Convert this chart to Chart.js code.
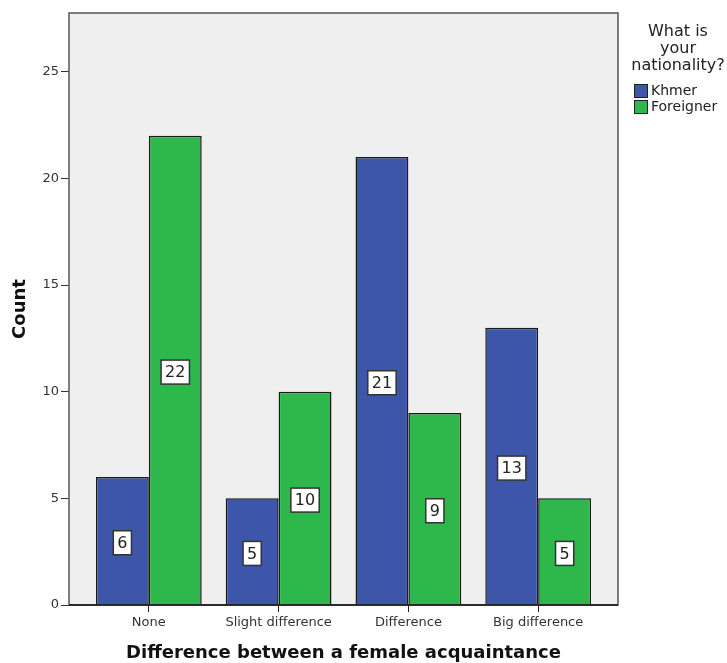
<!DOCTYPE html>
<html>
<head>
<meta charset="utf-8">
<script src="https://cdn.jsdelivr.net/npm/chart.js@4/dist/chart.umd.min.js"></script>
<style>
  html, body { margin: 0; padding: 0; background: #fff; }
  #wrap { width: 727px; height: 663px; }
</style>
</head>
<body>
<div id="wrap"><canvas id="chart"></canvas></div>
<script>
const categories = ['None', 'Slight difference', 'Difference', 'Big difference'];
const khmer = [6, 5, 21, 13];
const foreigner = [22, 10, 9, 5];
const yTicks = [0, 5, 10, 15, 20, 25];
const legendTitle = ['What is', 'your', 'nationality?'];

const FONT = '"DejaVu Sans", sans-serif';

// frame + grey background of the plot area
const framePlugin = {
    id: 'frame',
    beforeDatasetsDraw(chart) {
        const { ctx, chartArea: a } = chart;
        ctx.save();
        ctx.fillStyle = '#efefef';
        ctx.fillRect(a.left, a.top, a.right - a.left, a.bottom - a.top);
        ctx.restore();
    },
    afterDatasetsDraw(chart) {
        const { ctx, chartArea: a } = chart;
        ctx.save();
        ctx.strokeStyle = '#555';
        ctx.lineWidth = 1.5;
        ctx.strokeRect(a.left, a.top, a.right - a.left, a.bottom - a.top);
        // darker baseline
        ctx.strokeStyle = '#111';
        ctx.beginPath();
        ctx.moveTo(a.left, a.bottom);
        ctx.lineTo(a.right, a.bottom);
        ctx.stroke();
        ctx.restore();
    }
};

// white value boxes in the middle of each bar
const valueBoxes = {
    id: 'valueBoxes',
    afterDatasetsDraw(chart) {
        const { ctx } = chart;
        ctx.save();
        ctx.font = '16px ' + FONT;
        ctx.textAlign = 'center';
        ctx.textBaseline = 'middle';
        chart.data.datasets.forEach((ds, i) => {
            chart.getDatasetMeta(i).data.forEach((bar, j) => {
                const txt = String(ds.data[j].y);
                const w = ctx.measureText(txt).width + 8;
                const h = 24;
                const cy = (bar.y + bar.base) / 2 + 2;
                ctx.fillStyle = '#fff';
                ctx.fillRect(bar.x - w / 2, cy - h / 2, w, h);
                ctx.strokeStyle = '#333';
                ctx.lineWidth = 1.5;
                ctx.strokeRect(bar.x - w / 2, cy - h / 2, w, h);
                ctx.fillStyle = '#222';
                ctx.fillText(txt, bar.x, cy + 1);
            });
        });
        ctx.restore();
    }
};

// legend on the right with a three line title
const sideLegend = {
    id: 'sideLegend',
    afterDraw(chart) {
        const { ctx, chartArea: a } = chart;
        const cx = a.right + 60;
        ctx.save();
        ctx.fillStyle = '#222';
        ctx.textAlign = 'center';
        ctx.textBaseline = 'middle';
        ctx.font = '16px ' + FONT;
        legendTitle.forEach((line, i) => ctx.fillText(line, cx, 32 + i * 17));
        ctx.textAlign = 'left';
        ctx.font = '14px ' + FONT;
        chart.data.datasets.forEach((ds, i) => {
            const y = 84 + i * 16;
            ctx.fillStyle = ds.backgroundColor;
            ctx.fillRect(a.right + 16, y, 14, 14);
            ctx.strokeStyle = '#222';
            ctx.strokeRect(a.right + 16.5, y + 0.5, 13, 13);
            ctx.fillStyle = '#222';
            ctx.fillText(ds.label, a.right + 33, y + 7);
        });
        ctx.restore();
    }
};

const toPoints = arr => arr.map((v, i) => ({ x: i, y: v }));

new Chart(document.getElementById('chart'), {
    type: 'bar',
    data: {
        datasets: [
            {
                label: 'Khmer',
                data: toPoints(khmer),
                backgroundColor: '#3d56aa',
                borderColor: '#1a1a1a',
                borderWidth: 1.5,
                borderSkipped: 'bottom'
            },
            {
                label: 'Foreigner',
                data: toPoints(foreigner),
                backgroundColor: '#2eb84b',
                borderColor: '#1a1a1a',
                borderWidth: 1.5,
                borderSkipped: 'bottom'
            }
        ]
    },
    options: {
        responsive: true,
        maintainAspectRatio: false,
        animation: false,
        layout: { padding: { top: 13, right: 109, left: 0, bottom: 0 } },
        datasets: { bar: { categoryPercentage: 0.815, barPercentage: 1 } },
        plugins: {
            legend: { display: false },
            tooltip: { enabled: false }
        },
        scales: {
            x: {
                type: 'linear',
                offset: false,
                min: -0.615,
                max: 3.615,
                afterBuildTicks(scale) {
                    scale.ticks = categories.map((c, i) => ({ value: i }));
                },
                afterFit(scale) { scale.height = 58; },
                grid: { offset: false, drawOnChartArea: false, drawTicks: true, tickLength: 7, tickColor: '#222' },
                border: { display: false },
                ticks: {
                    autoSkip: false,
                    maxRotation: 0,
                    padding: 3,
                    color: '#333',
                    font: { family: FONT, size: 13 },
                    callback: v => categories[v]
                },
                title: {
                    display: true,
                    text: 'Difference between a female acquaintance',
                    color: '#111',
                    padding: { top: 0, bottom: 1 },
                    font: { family: FONT, size: 18, weight: 'bold', lineHeight: 1 }
                }
            },
            y: {
                min: 0,
                max: 27.75,
                afterBuildTicks(scale) {
                    scale.ticks = yTicks.map(v => ({ value: v }));
                },
                afterFit(scale) { scale.width = 69; },
                grid: { drawOnChartArea: false, drawTicks: true, tickLength: 8, tickColor: '#333' },
                border: { display: false },
                ticks: {
                    padding: 2,
                    color: '#333',
                    font: { family: FONT, size: 13 }
                },
                title: {
                    display: true,
                    text: 'Count',
                    color: '#111',
                    padding: { top: 11, bottom: 0 },
                    font: { family: FONT, size: 18, weight: 'bold', lineHeight: 1 }
                }
            }
        }
    },
    plugins: [framePlugin, valueBoxes, sideLegend]
});
</script>
</body>
</html>
